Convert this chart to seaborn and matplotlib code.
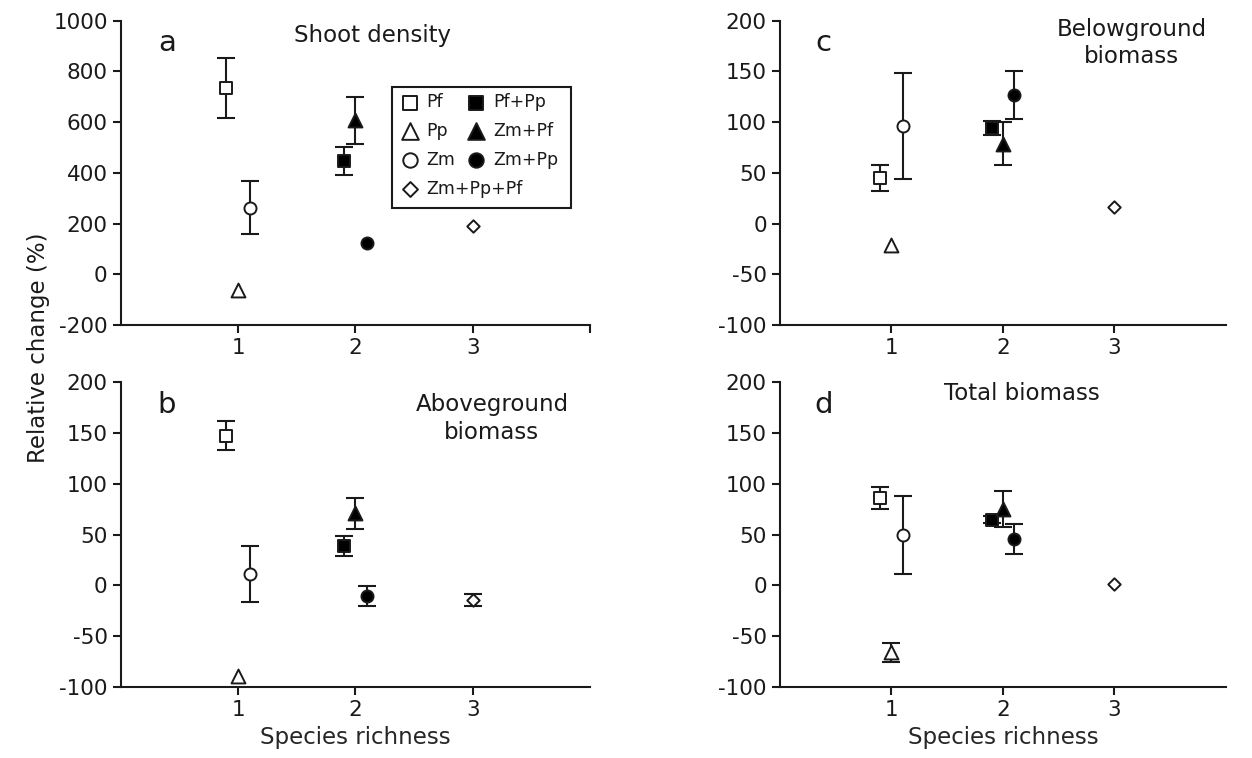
import numpy as np
import pandas as pd
import seaborn as sns
import matplotlib.pyplot as plt
from matplotlib.patches import Rectangle

nan = np.nan

# treatments and their x position around each richness level
treatments = ['Pf', 'Pp', 'Zm', 'Pf+Pp', 'Zm+Pf', 'Zm+Pp', 'Zm+Pp+Pf']
x_pos = [0.9, 1.0, 1.1, 1.9, 2.0, 2.1, 3.0]

# relative change (%), with error bars
shoot_mean = [735, -62, 263, 448, 608, 123, 190]
shoot_err = [118, nan, 105, 55, 92, nan, nan]
above_mean = [147.5, -89, 11, 38.6, 71, -10.5, -14.6]
above_err = [14.5, nan, 27.5, 10, 15.5, 9.5, 6]
below_mean = [44.7, -21, 96, 94.5, 79, 126.7, 16]
below_err = [12.7, nan, 52.4, 7, 21.4, 23.7, nan]
total_mean = [86.5, -66, 49.8, 65, 75.5, 45.6, 1]
total_err = [10.7, 9.5, 38.8, 3, 18, 15, nan]

markers = ['s', '^', 'o', 's', '^', 'o', 'D']
fills = ['white', 'white', 'white', 'black', 'black', 'black', 'white']
sizes = [80, 100, 75, 80, 100, 75, 40]

ink = '#1a1a1a'

sns.set_theme(style="ticks")
plt.rcParams['font.family'] = ['DejaVu Sans']
plt.rcParams['axes.unicode_minus'] = False
plt.rcParams['axes.edgecolor'] = ink
plt.rcParams['xtick.color'] = ink
plt.rcParams['ytick.color'] = ink
plt.rcParams['text.color'] = ink

fig = plt.figure(figsize=(12.52, 7.58), dpi=100)
ax_a = fig.add_axes([0.0966, 0.571, 0.3746, 0.4017])
ax_b = fig.add_axes([0.0966, 0.0937, 0.3746, 0.4017])
ax_c = fig.add_axes([0.623, 0.571, 0.356, 0.4017])
ax_d = fig.add_axes([0.623, 0.0937, 0.356, 0.4017])

panels = [
    (ax_a, shoot_mean, shoot_err, 'a', 'Shoot density', (0.537, 0.953), (-200, 1000), 200),
    (ax_b, above_mean, above_err, 'b', 'Aboveground\nbiomass', (0.791, 0.882), (-100, 200), 50),
    (ax_c, below_mean, below_err, 'c', 'Belowground\nbiomass', (0.789, 0.927), (-100, 200), 50),
    (ax_d, total_mean, total_err, 'd', 'Total biomass', (0.543, 0.965), (-100, 200), 50),
]

for ax, means, errs, letter, title, tpos, ylim, step in panels:
    df = pd.DataFrame({'treatment': treatments, 'x': x_pos, 'value': means, 'err': errs})
    for i, row in df.iterrows():
        if not np.isnan(row['err']):
            ax.errorbar(row['x'], row['value'], yerr=row['err'], fmt='none',
                        ecolor=ink, elinewidth=1.5, capsize=6.5, capthick=1.5, zorder=2)
        sns.scatterplot(x=[row['x']], y=[row['value']], marker=markers[i], s=sizes[i],
                        color=fills[i], edgecolor=ink, linewidth=1.4, ax=ax,
                        label=row['treatment'], zorder=3, legend=False)
    ax.set_xlim(0, 4)
    ax.set_ylim(*ylim)
    ax.set_yticks(np.arange(ylim[0], ylim[1] + 1, step))
    ax.set_xticks([1, 2, 3])
    ax.set_xlabel('')
    ax.set_ylabel('')
    ax.tick_params(axis='both', labelsize=15.5, width=1.5, length=6, direction='out')
    for sp in ['left', 'bottom']:
        ax.spines[sp].set_linewidth(1.5)
    sns.despine(ax=ax)
    ax.text(0.098, 0.927, letter, transform=ax.transAxes, fontsize=21,
            ha='center', va='center')
    ax.text(tpos[0], tpos[1], title, transform=ax.transAxes, fontsize=16.5,
            ha='center', va='center', linespacing=1.25)
    if ax.get_legend() is not None:
        ax.get_legend().remove()

# small unlabelled tick at the right end of panel a
ax_a.set_xticks([1, 2, 3, 4], ['1', '2', '3', ''])

ax_b.set_xlabel('Species richness', fontsize=16.5)
ax_d.set_xlabel('Species richness', fontsize=16.5)

# legend in panel a: two columns of three, then the three-species mix on its own row
handles, labels = ax_a.get_legend_handles_labels()
leg_kw = dict(loc='upper left', borderaxespad=0, borderpad=0, fontsize=12.5,
              frameon=False, handletextpad=0.45, handlelength=1.0,
              labelspacing=0.62, markerscale=1.2)
order = [0, 1, 2, 3, 4, 5]
leg1 = ax_a.legend([handles[k] for k in order], [labels[k] for k in order],
                   ncol=2, columnspacing=0.7, bbox_to_anchor=(0.598, 0.762), **leg_kw)
ax_a.add_artist(leg1)
ax_a.legend([handles[6]], [labels[6]], bbox_to_anchor=(0.598, 0.478), **leg_kw)
ax_a.add_patch(Rectangle((0.578, 0.3845), 0.3817, 0.3976, transform=ax_a.transAxes,
                         fill=False, edgecolor=ink, linewidth=1.5, clip_on=False, zorder=4))

fig.text(0.031, 0.541, 'Relative change (%)', rotation=90, fontsize=16.5,
         ha='center', va='center')

fig.savefig('out.png', dpi=100)
